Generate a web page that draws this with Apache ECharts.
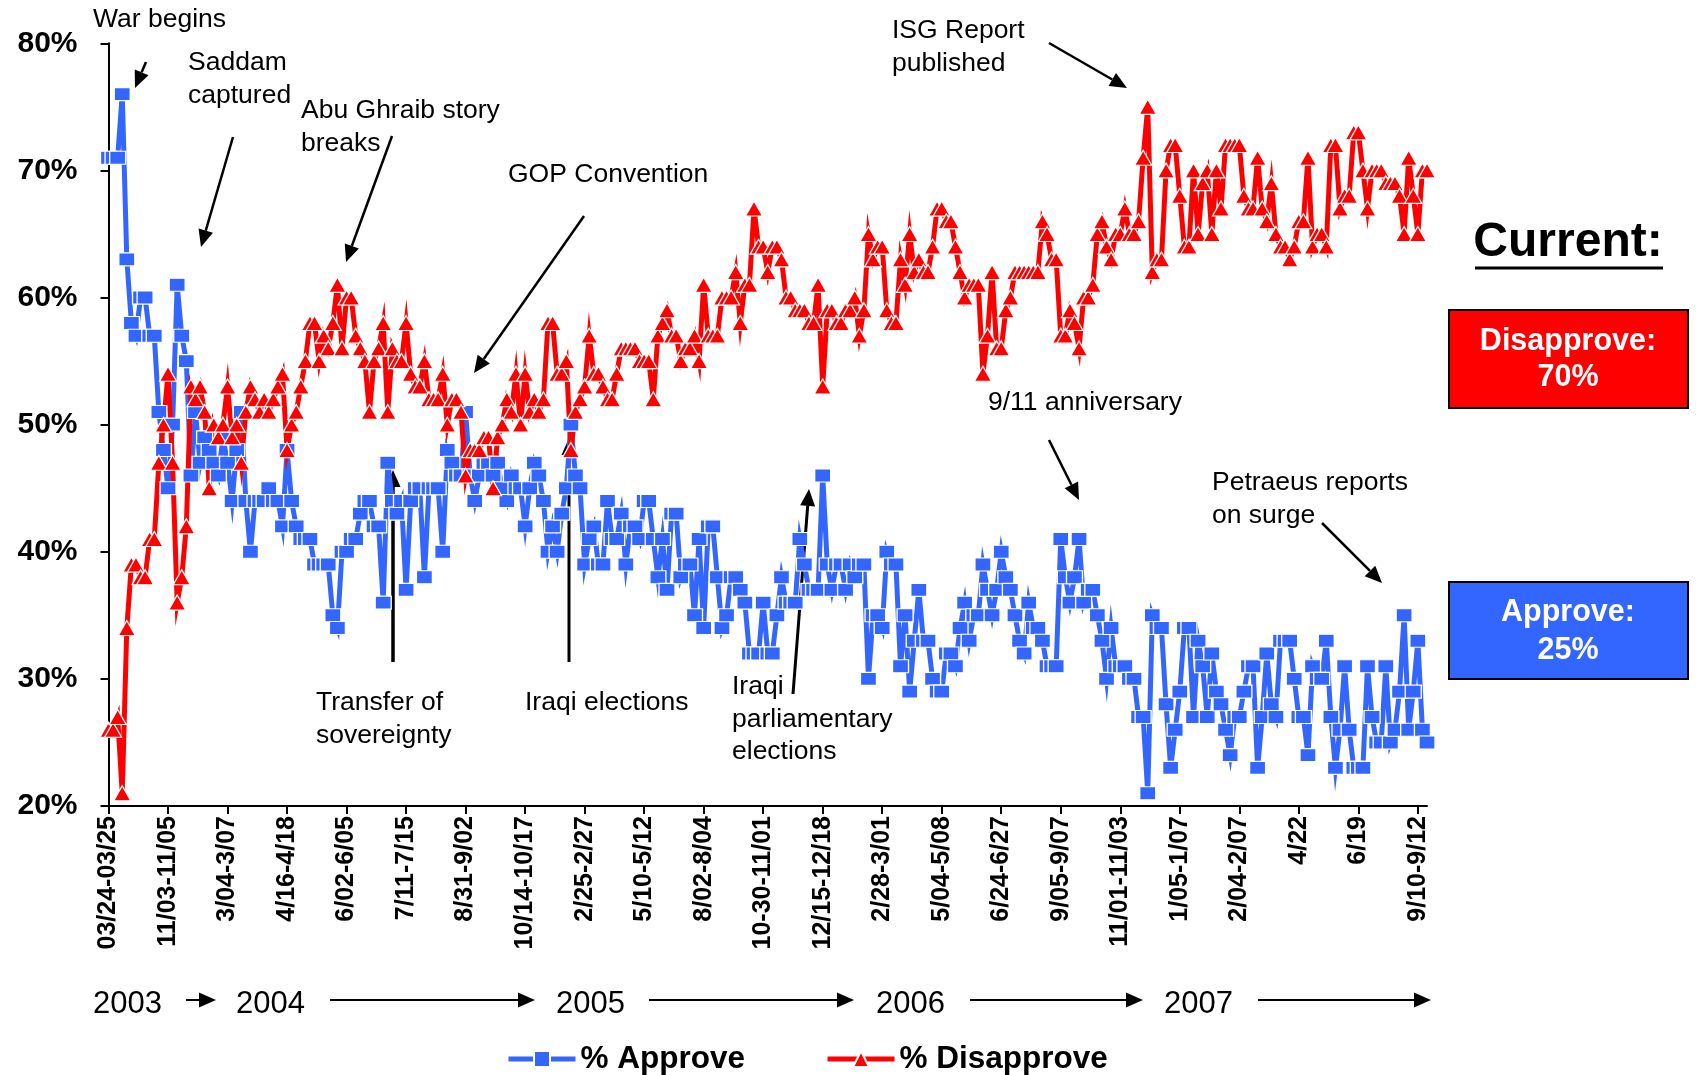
<!DOCTYPE html>
<html>
<head>
<meta charset="utf-8">
<script src="https://cdn.jsdelivr.net/npm/echarts@6/dist/echarts.min.js"></script>
<style>
html,body{margin:0;padding:0;background:#fff;}
#chart{width:1696px;height:1075px;}
</style>
</head>
<body>
<div id="chart"></div>
<script>
// ---------- DATA ----------
const tickLabels = ['03/24-03/25','11/03-11/05','3/04-3/07','4/16-4/18','6/02-6/05','7/11-7/15',
  '8/31-9/02','10/14-10/17','2/25-2/27','5/10-5/12','8/02-8/04','10-30-11/01','12/15-12/18',
  '2/28-3/01','5/04-5/08','6/24-6/27','9/05-9/07','11/01-11/03','1/05-1/07','2/04-2/07',
  '4/22','6/19','9/10-9/12'];
const pollsPerTick = 13;
const years = ['2003','2004','2005','2006','2007'];

const approve = [
71,71,71,76,63,58,57,60,60,57,57,51,48,
45,50,61,57,55,46,51,47,49,48,47,46,49,
47,44,48,51,44,40,44,44,44,45,44,44,42,
48,44,42,41,41,41,39,39,39,39,35,34,40,
40,41,41,43,44,44,42,42,36,47,44,43,44,
37,44,45,45,38,45,45,45,40,48,47,46,46,
51,46,44,46,47,47,46,47,45,44,46,45,45,
42,45,47,46,44,40,42,40,43,45,50,46,45,
39,41,42,39,39,44,41,41,43,39,42,42,41,
44,44,41,38,41,37,43,43,38,39,39,35,41,
34,42,42,38,34,35,38,38,37,36,32,32,32,
36,32,32,35,38,36,36,36,41,39,37,37,37,
46,39,37,39,39,37,39,38,39,39,30,35,35,
34,40,39,39,31,35,29,33,37,33,33,30,29,
29,32,32,31,34,36,33,35,35,39,37,35,37,
40,38,37,35,33,32,36,34,34,33,31,31,31,
41,38,36,38,41,36,37,37,35,33,30,34,31,
31,31,30,30,27,27,21,35,34,34,28,23,26,
29,34,34,27,33,31,27,32,29,28,26,24,27,
27,29,31,31,23,27,32,28,27,33,33,33,30,
27,27,24,31,30,30,33,27,23,26,31,26,23,
23,23,31,27,25,25,31,25,26,29,35,26,29,
33,26,25
];

const disapprove = [
26,26,27,21,34,39,39,38,38,41,41,47,50,
54,47,36,38,42,53,52,53,51,45,50,49,50,
53,49,50,47,51,53,52,51,52,51,52,53,54,
48,50,51,53,55,58,58,55,57,56,58,61,56,
60,60,57,56,55,51,55,56,58,51,56,55,55,
58,54,53,53,55,52,52,52,54,50,52,52,51,
46,48,48,48,49,49,45,49,50,52,51,54,50,
54,51,52,51,52,58,58,54,54,55,48,51,52,
53,57,54,54,53,52,52,54,56,56,56,56,55,
55,55,52,57,58,59,57,57,55,56,56,57,55,
61,57,57,57,60,60,60,62,58,61,61,67,64,
64,62,64,64,63,60,60,59,59,59,58,58,61,
53,59,59,58,58,59,59,60,57,59,65,63,64,
64,59,58,58,63,61,65,62,63,62,62,64,67,
67,66,66,64,62,60,61,61,61,54,57,62,56,
56,59,60,62,62,62,62,62,62,66,65,63,63,
57,57,59,58,56,60,60,61,65,66,64,63,65,
65,67,65,65,66,71,75,62,63,63,70,72,72,
68,64,64,70,65,69,70,65,70,67,72,72,72,
72,68,67,67,71,67,66,69,65,64,64,63,64,
66,66,71,64,65,65,64,72,72,67,68,68,73,
73,70,67,70,70,70,69,69,69,68,65,71,68,
65,70,70
];

// ---------- BUILD ----------
const categories = approve.map((v, i) => (i % pollsPerTick === 0 ? (tickLabels[i / pollsPerTick] || '') : ''));

const FONT = "'Liberation Sans', Arial, Helvetica, sans-serif";
const BLUE = '#3366FF';
const RED = '#FF0000';

function arrow(x1, y1, x2, y2, w) {
  w = w || 2.5;
  const ang = Math.atan2(y2 - y1, x2 - x1);
  const L = 17, W = 7.5;
  const bx = x2 - L * Math.cos(ang), by = y2 - L * Math.sin(ang);
  const px = -Math.sin(ang), py = Math.cos(ang);
  return [
    {type: 'line', shape: {x1: x1, y1: y1, x2: bx, y2: by}, style: {stroke: '#000', lineWidth: w}, silent: true},
    {type: 'polygon', shape: {points: [[x2, y2], [bx + W * px, by + W * py], [bx - W * px, by - W * py]]}, style: {fill: '#000'}, silent: true}
  ];
}
function txt(lines, x, y, opts) {
  opts = opts || {};
  const step = opts.step || 32.5;
  return lines.map((t, k) => ({
    type: 'text', silent: true,
    style: {
      text: t, x: x, y: y + k * step,
      fill: opts.fill || '#000',
      fontSize: opts.size || 26.5,
      fontWeight: opts.weight || 'normal',
      fontFamily: FONT,
      align: opts.align || 'left',
      verticalAlign: 'middle'
    }
  }));
}

let g = [];
// annotations
g = g.concat(txt(['War begins'], 93, 20));
g = g.concat(arrow(146, 62, 135, 88));
g = g.concat(txt(['Saddam', 'captured'], 188, 63));
g = g.concat(arrow(233, 137, 201, 247));
g = g.concat(txt(['Abu Ghraib story', 'breaks'], 301, 111));
g = g.concat(arrow(392, 136, 346, 262));
g = g.concat(txt(['GOP Convention'], 508, 175));
g = g.concat(arrow(584, 216, 474, 373));
g = g.concat(txt(['Transfer of', 'sovereignty'], 316, 703));
g = g.concat(arrow(393, 662, 393, 470, 3.5));
g = g.concat(txt(['Iraqi elections'], 525, 703));
g = g.concat(arrow(569, 662, 569, 438, 3));
g = g.concat(txt(['Iraqi', 'parliamentary', 'elections'], 732, 687));
g = g.concat(arrow(793, 694, 809, 489, 3));
g = g.concat(txt(['ISG Report', 'published'], 892, 31));
g = g.concat(arrow(1049, 43, 1127, 88));
g = g.concat(txt(['9/11 anniversary'], 988, 403));
g = g.concat(arrow(1049, 440, 1079, 500));
g = g.concat(txt(['Petraeus reports', 'on surge'], 1212, 483));
g = g.concat(arrow(1322, 523, 1382, 583));

// year row
const yearX = [93, 236, 556, 876, 1164];
const yearArrows = [[186, 216], [330, 535], [649, 854], [970, 1143], [1258, 1431]];
years.forEach((y, k) => {
  g = g.concat(txt([y], yearX[k], 1004, {size: 31}));
  g = g.concat(arrow(yearArrows[k][0], 1000, yearArrows[k][1], 1000, 2));
});

// current box
const lastA = approve[approve.length - 1];
const lastD = disapprove[disapprove.length - 1];
g = g.concat(txt(['Current:'], 1568, 243, {size: 48, weight: 'bold', align: 'center'}));
g.push({type: 'line', silent: true, shape: {x1: 1475, y1: 268, x2: 1663, y2: 268}, style: {stroke: '#000', lineWidth: 3}});
g.push({type: 'rect', silent: true, shape: {x: 1449, y: 310, width: 239, height: 98}, style: {fill: RED, stroke: '#000', lineWidth: 2}});
g = g.concat(txt(['Disapprove:', lastD + '%'], 1568, 342, {size: 30.5, weight: 'bold', align: 'center', fill: '#fff', step: 36}));
g.push({type: 'rect', silent: true, shape: {x: 1449, y: 582, width: 239, height: 97}, style: {fill: BLUE, stroke: '#000', lineWidth: 2}});
g = g.concat(txt(['Approve:', lastA + '%'], 1568, 613, {size: 30.5, weight: 'bold', align: 'center', fill: '#fff', step: 38}));

const chart = echarts.init(document.getElementById('chart'), null, {renderer: 'canvas'});
chart.setOption({
  animation: false,
  backgroundColor: '#fff',
  textStyle: {fontFamily: FONT},
  grid: {left: 108.5, right: 269, top: 43.3, bottom: 269, containLabel: false},
  legend: {
    left: 501, top: 1038,
    itemWidth: 67, itemHeight: 20, itemGap: 80,
    lineStyle: {width: 5},
    textStyle: {fontSize: 31.5, fontWeight: 'bold', color: '#000', fontFamily: FONT},
    data: ['% Approve', '% Disapprove']
  },
  xAxis: {
    type: 'category',
    data: categories,
    boundaryGap: false,
    axisLine: {lineStyle: {color: '#000', width: 2}},
    axisTick: {show: true, interval: pollsPerTick - 1, length: 8, lineStyle: {color: '#000', width: 2}},
    axisLabel: {interval: pollsPerTick - 1, rotate: 90, margin: 10, fontSize: 25, fontWeight: 'bold', color: '#000', fontFamily: FONT},
    splitLine: {show: false}
  },
  yAxis: {
    type: 'value', min: 20, max: 80, interval: 10,
    axisLine: {show: true, lineStyle: {color: '#000', width: 2}},
    axisTick: {show: true, length: 8, lineStyle: {color: '#000', width: 2}},
    axisLabel: {formatter: '{value}%', margin: 31, fontSize: 30, fontWeight: 'bold', color: '#000', fontFamily: FONT},
    splitLine: {show: false}
  },
  series: [
    {
      name: '% Approve', type: 'line', data: approve,
      showAllSymbol: true, symbol: 'rect', symbolSize: [16, 13],
      lineStyle: {color: BLUE, width: 5, join: 'miter'},
      itemStyle: {color: BLUE, borderColor: '#fff', borderWidth: 1.2},
      emphasis: {disabled: true}, clip: false
    },
    {
      name: '% Disapprove', type: 'line', data: disapprove,
      showAllSymbol: true, symbol: 'triangle', symbolSize: [17, 15],
      lineStyle: {color: RED, width: 5, join: 'miter'},
      itemStyle: {color: RED, borderColor: '#fff', borderWidth: 1.2},
      emphasis: {disabled: true}, clip: false
    }
  ],
  graphic: g
});
</script>
</body>
</html>
